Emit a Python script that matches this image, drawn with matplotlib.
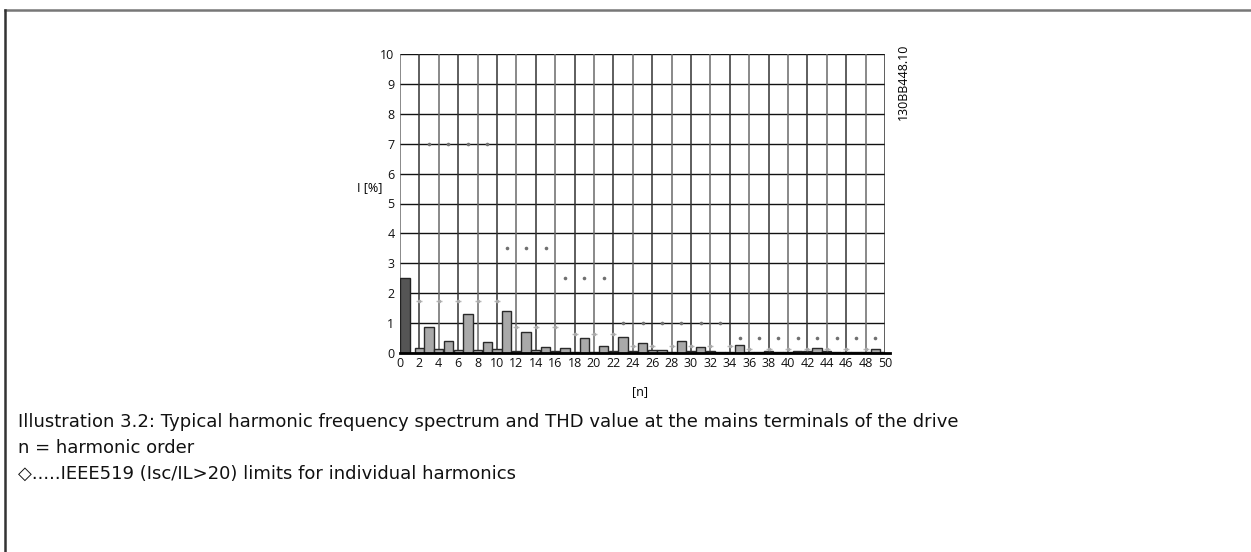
import matplotlib
matplotlib.use("Agg")
import matplotlib.pyplot as plt
from matplotlib.lines import Line2D
import numpy as np

# ---- data ----
thd_value = 2.5
harmonic_order = list(range(2, 51))
harmonic_current = [0.17, 0.86, 0.13, 0.40, 0.10, 1.32, 0.09, 0.37, 0.13, 1.40,
                    0.07, 0.71, 0.10, 0.20, 0.07, 0.17, 0.04, 0.50, 0.04, 0.23,
                    0.07, 0.53, 0.07, 0.33, 0.10, 0.10, 0.03, 0.40, 0.07, 0.19,
                    0.07, 0.02, 0.02, 0.26, 0.04, 0.05, 0.08, 0.02, 0.02, 0.06,
                    0.06, 0.16, 0.06, 0.04, 0.02, 0.05, 0.05, 0.13, 0.02]
odd_limit_order = [3, 5, 7, 9, 11, 13, 15, 17, 19, 21, 23, 25, 27, 29, 31, 33,
                   35, 37, 39, 41, 43, 45, 47, 49]
odd_limit_value = [7.0, 7.0, 7.0, 7.0, 3.5, 3.5, 3.5, 2.5, 2.5, 2.5, 1.0, 1.0,
                   1.0, 1.0, 1.0, 1.0, 0.5, 0.5, 0.5, 0.5, 0.5, 0.5, 0.5, 0.5]
even_limit_order = [2, 4, 6, 8, 10, 12, 14, 16, 18, 20, 22, 24, 26, 28, 30, 32,
                    34, 36, 38, 40, 42, 44, 46, 48]
even_limit_value = [1.75, 1.75, 1.75, 1.75, 1.75, 0.875, 0.875, 0.875, 0.625,
                    0.625, 0.625, 0.25, 0.25, 0.25, 0.25, 0.25, 0.25, 0.125,
                    0.125, 0.125, 0.125, 0.125, 0.125, 0.125]
x_ticks = list(range(0, 51, 2))
y_ticks = list(range(0, 11))

W, H = 1251, 552
fig = plt.figure(figsize=(W / 100, H / 100), dpi=100)
fig.patch.set_facecolor("white")

def fx(px):
    return px / W

def fy(py):
    return 1 - py / H

# plot area in pixels: x 400..885, y 54..353
ax = fig.add_axes([fx(400), fy(353), fx(885) - fx(400), fy(54) - fy(353)])
ax.set_xlim(0, 50)
ax.set_ylim(0, 10)
for s in ax.spines.values():
    s.set_visible(False)

# grid
for yv in y_ticks:
    ax.axhline(yv, color="#111111", lw=1.0, zorder=1)
for i, xv in enumerate(x_ticks):
    ax.axvline(xv, color="#333333" if i % 2 else "#6a6a6a", lw=1.1, zorder=1)
ax.axhline(0, color="#000000", lw=2.0, zorder=5, xmax=1.01, clip_on=False)

# bars
ax.bar([0.5], [thd_value], width=1.0, color="#555555", edgecolor="#222222",
       linewidth=1.0, zorder=3)
ax.bar(harmonic_order, harmonic_current, width=0.95, color="#a9a9a9",
       edgecolor="#2a2a2a", linewidth=1.0, zorder=3)

# limit markers
ax.plot(odd_limit_order, odd_limit_value, linestyle="none", marker="o",
        ms=2.6, color="#707070", mec="none", zorder=6)
ax.plot(even_limit_order, even_limit_value, linestyle="none", marker="_",
        ms=5, mew=1.0, color="#bbbbbb", zorder=6)
ax.plot(even_limit_order, even_limit_value, linestyle="none", marker="o",
        ms=2.6, color="#aaaaaa", mec="none", zorder=6)

tick_font = dict(family=["Open Sans", "DejaVu Sans"], size=9)
ax.set_xticks(x_ticks)
ax.set_xticklabels([str(v) for v in x_ticks], **tick_font)
ax.set_yticks(y_ticks)
ax.set_yticklabels([str(v) for v in y_ticks], **tick_font)
ax.tick_params(axis="both", length=0, colors="#111111")
ax.tick_params(axis="x", pad=3)
ax.tick_params(axis="y", pad=4)

# axis labels
fig.text(fx(357), fy(188), "I [%]", ha="left", va="center", **tick_font)
fig.text(fx(640), fy(392), "[n]", ha="center", va="center", **tick_font)
fig.text(fx(903), fy(44), "130BB448.10", rotation=90, ha="center", va="top",
         **tick_font)

# captions
cap_font = dict(family=["DejaVu Sans"], size=13, color="#111111")
fig.text(fx(18), fy(422), "Illustration 3.2: Typical harmonic frequency spectrum and THD value at the mains terminals of the drive",
         ha="left", va="center", **cap_font)
fig.text(fx(18), fy(448), "n = harmonic order", ha="left", va="center", **cap_font)
fig.text(fx(18), fy(474), "\u25c7.....IEEE519 (Isc/IL>20) limits for individual harmonics",
         ha="left", va="center", **cap_font)

# page frame
fig.add_artist(Line2D([fx(5), 1.0], [fy(9.5), fy(9.5)], color="#777777", lw=1.8,
                      transform=fig.transFigure))
fig.add_artist(Line2D([fx(5), fx(5)], [fy(9.5), 0.0], color="#333333", lw=1.8,
                      transform=fig.transFigure))

fig.savefig("out.png", dpi=100, facecolor="white")
